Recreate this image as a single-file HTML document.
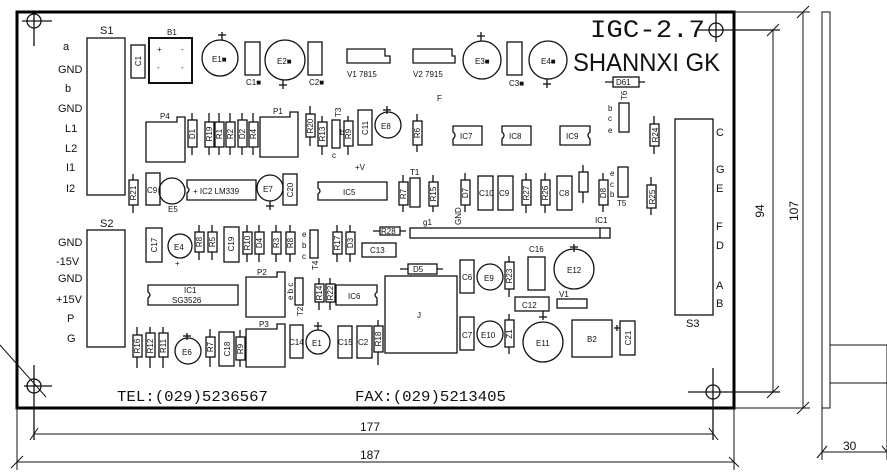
<!DOCTYPE html>
<html><head><meta charset="utf-8">
<style>
html,body{margin:0;padding:0;background:#fff;}
svg{display:block;}
text{font-family:"Liberation Sans","DejaVu Sans",sans-serif;fill:#111;}
.s{fill:none;stroke:#111;stroke-width:1.3;}
.t{fill:none;stroke:#111;stroke-width:1;}
.lbl{font-size:11px;}
.sm{font-size:8px;}
</style></head><body>
<svg width="887" height="476" viewBox="0 0 887 476" xmlns="http://www.w3.org/2000/svg">
<rect width="887" height="476" fill="#fff"/>
<rect x="17" y="12" width="717" height="396" fill="none" stroke="#000" stroke-width="3"/>
<g class="s">
<circle cx="34" cy="21" r="7"/><line x1="22" y1="21" x2="52" y2="21"/><line x1="34" y1="14" x2="34" y2="46"/>
<circle cx="716" cy="30" r="7"/><line x1="697" y1="30" x2="780" y2="30"/><line x1="716" y1="13" x2="716" y2="42"/>
<circle cx="34" cy="386" r="7"/><line x1="24" y1="386" x2="52" y2="386"/><line x1="34" y1="365" x2="34" y2="440"/>
<circle cx="713" cy="392" r="7"/><line x1="688" y1="392" x2="780" y2="392"/><line x1="713" y1="368" x2="713" y2="440"/>
</g>
<g class="t">
<line x1="0" y1="345" x2="46" y2="397"/>
<line x1="17" y1="408" x2="17" y2="470"/>
<line x1="734" y1="408" x2="734" y2="470"/>
<line x1="34" y1="434" x2="713" y2="434"/><line x1="30" y1="440" x2="38" y2="428"/><line x1="709" y1="428" x2="718" y2="440"/>
<line x1="17" y1="462" x2="734" y2="462"/><line x1="11" y1="468" x2="23" y2="456"/><line x1="729" y1="457" x2="739" y2="467"/>
<line x1="734" y1="12" x2="810" y2="12"/><line x1="734" y1="408" x2="810" y2="408"/>
<line x1="773" y1="30" x2="773" y2="392"/><line x1="767" y1="36" x2="779" y2="24"/><line x1="767" y1="398" x2="779" y2="386"/>
<line x1="803" y1="12" x2="803" y2="408"/><line x1="797" y1="18" x2="809" y2="6"/><line x1="797" y1="414" x2="809" y2="402"/>
<rect x="822" y="12" width="8" height="396"/>
<rect x="830" y="345" width="57" height="38"/>
<line x1="822" y1="408" x2="822" y2="460"/><line x1="887" y1="383" x2="887" y2="460"/>
<line x1="822" y1="452" x2="887" y2="452"/><line x1="817" y1="458" x2="827" y2="446"/><line x1="882" y1="446" x2="887" y2="452"/>
</g>
<text x="360" y="431" font-size="12">177</text>
<text x="360" y="459" font-size="12">187</text>
<text x="843" y="450" font-size="12">30</text>
<text transform="translate(764,211) rotate(-90)" font-size="12" text-anchor="middle">94</text>
<text transform="translate(798,211) rotate(-90)" font-size="12" text-anchor="middle">107</text>
<text x="590" y="37" style="font-family:'Liberation Mono',monospace;font-size:25px" textLength="115" lengthAdjust="spacingAndGlyphs">IGC-2.7</text>
<text x="573" y="71" style="font-size:25px" textLength="147" lengthAdjust="spacingAndGlyphs">SHANNXI  GK</text>
<text x="117" y="401" style="font-family:'Liberation Mono',monospace;font-size:15px" textLength="151" lengthAdjust="spacingAndGlyphs">TEL:(029)5236567</text>
<text x="355" y="401" style="font-family:'Liberation Mono',monospace;font-size:15px" textLength="151" lengthAdjust="spacingAndGlyphs">FAX:(029)5213405</text>
<rect class="s" x="87" y="38" width="38" height="157"/>
<text x="100" y="34" class="lbl">S1</text>
<g class="lbl">
<text x="63" y="50">a</text><text x="58" y="73">GND</text><text x="65" y="92">b</text><text x="58" y="112">GND</text>
<text x="65" y="132">L1</text><text x="65" y="152">L2</text><text x="66" y="171">I1</text><text x="66" y="192">I2</text>
</g>
<rect class="s" x="87" y="230" width="38" height="117"/>
<text x="100" y="227" class="lbl">S2</text>
<g class="lbl">
<text x="58" y="246">GND</text><text x="56" y="265">-15V</text><text x="58" y="282">GND</text>
<text x="56" y="303">+15V</text><text x="67" y="322">P</text><text x="67" y="342">G</text>
</g>
<rect class="s" x="675" y="119" width="38" height="196"/>
<text x="686" y="327" class="lbl">S3</text>
<g class="lbl">
<text x="716" y="136">C</text><text x="716" y="173">G</text><text x="716" y="192">E</text>
<text x="716" y="230">F</text><text x="716" y="249">D</text><text x="716" y="289">A</text><text x="716" y="307">B</text>
</g>
<g class="s">
<rect x="131" y="45" width="14" height="33"/>
<rect x="149" y="38" width="43" height="45" stroke-width="2"/>
<circle cx="220" cy="58" r="18"/><line x1="222" y1="32" x2="222" y2="40"/><line x1="218" y1="35" x2="226" y2="35"/>
<rect x="245" y="42" width="15" height="33"/>
<circle cx="285" cy="60" r="20"/><line x1="283" y1="80" x2="283" y2="89"/><line x1="279" y1="85" x2="287" y2="85"/>
<rect x="308" y="42" width="14" height="33"/>
<path d="M347 49 H385 V56 H390 V63 H347 Z"/>
<path d="M413 49 H452 V56 H455 V63 H413 Z"/>
<circle cx="482" cy="60" r="19"/><line x1="481" y1="32" x2="481" y2="41"/><line x1="477" y1="36" x2="485" y2="36"/>
<rect x="507" y="42" width="15" height="33"/>
<circle cx="548" cy="60" r="19"/><line x1="547" y1="79" x2="547" y2="88"/><line x1="543" y1="84" x2="551" y2="84"/>
</g>
<g class="sm">
<text transform="translate(141,61) rotate(-90)" text-anchor="middle">C1</text>
<text x="167" y="35">B1</text>
<text x="157" y="52">+</text><text x="181" y="52">-</text><text x="157" y="70">-</text><text x="181" y="70">-</text>
<text x="212" y="62">E1■</text><text x="246" y="85">C1■</text>
<text x="277" y="64">E2■</text><text x="309" y="85">C2■</text>
<text x="347" y="77">V1 7815</text><text x="413" y="77">V2 7915</text>
<text x="475" y="64">E3■</text><text x="509" y="86">C3■</text><text x="541" y="64">E4■</text>
<text x="437" y="101">F</text>
</g>
<g class="s">
<line x1="605" y1="82" x2="645" y2="82"/><rect x="613" y="77" width="26" height="10" fill="#fff"/>
<rect x="619" y="103" width="10" height="29"/>
<line x1="654" y1="116" x2="654" y2="154"/><rect x="650" y="124" width="9" height="22" fill="#fff"/>
<line x1="651" y1="177" x2="651" y2="215"/><rect x="647" y="185" width="9" height="23" fill="#fff"/>
</g>
<g class="sm">
<text x="616" y="85">D61</text>
<text transform="translate(627,100) rotate(-90)">T6</text>
<text x="608" y="111">b</text><text x="608" y="121">c</text><text x="608" y="133">e</text>
<text transform="translate(658,135) rotate(-90)" text-anchor="middle">R24</text>
<text transform="translate(655,197) rotate(-90)" text-anchor="middle">R25</text>
</g>
<g class="s">
<path d="M146 122 H177 V117 H185 V162 H146 Z"/>
<path d="M260 117 H290 V112 H298 V157 H260 Z"/>
<rect x="332" y="120" width="8" height="28"/>
<rect x="358" y="110" width="14" height="35"/>
<circle cx="388" cy="125" r="13"/><line x1="387" y1="106" x2="387" y2="114"/><line x1="383" y1="110" x2="391" y2="110"/>
<path d="M453 126 H482 V145 H453 V139 Q457 135 453 132 Z"/>
<path d="M502 126 H531 V145 H502 V139 Q506 135 502 132 Z"/>
<path d="M560 126 H590 V132 Q586 135 590 139 V145 H560 Z"/>
</g>
<g class="sm">
<text x="160" y="119">P4</text><text x="273" y="114">P1</text>
<text transform="translate(341,117) rotate(-90)">T3</text><text x="332" y="158">c</text><text x="340" y="135">b</text>
<text transform="translate(368,128) rotate(-90)" text-anchor="middle">C11</text>
<text x="381" y="129">E8</text>
<text x="355" y="170">+V</text>
<text x="460" y="139">IC7</text><text x="509" y="139">IC8</text><text x="566" y="139">IC9</text>
</g>
<g class="s">
<line x1="192" y1="113" x2="192" y2="155"/><rect x="188" y="120" width="9" height="27" fill="#fff"/>
<line x1="209" y1="113" x2="209" y2="155"/><rect x="205" y="122" width="9" height="25" fill="#fff"/>
<line x1="219" y1="113" x2="219" y2="155"/><rect x="215" y="122" width="9" height="25" fill="#fff"/>
<line x1="230" y1="113" x2="230" y2="155"/><rect x="226" y="122" width="9" height="25" fill="#fff"/>
<line x1="242" y1="113" x2="242" y2="155"/><rect x="238" y="120" width="9" height="27" fill="#fff"/>
<line x1="253" y1="113" x2="253" y2="155"/><rect x="249" y="122" width="9" height="25" fill="#fff"/>
<line x1="310" y1="106" x2="310" y2="146"/><rect x="306" y="114" width="9" height="23" fill="#fff"/>
<line x1="322" y1="116" x2="322" y2="155"/><rect x="318" y="122" width="9" height="24" fill="#fff"/>
<line x1="348" y1="116" x2="348" y2="155"/><rect x="344" y="121" width="9" height="25" fill="#fff"/>
<line x1="417" y1="114" x2="417" y2="152"/><rect x="413" y="121" width="9" height="24" fill="#fff"/>
</g>
<g class="sm">
<text transform="translate(195,134) rotate(-90)" text-anchor="middle">D1</text>
<text transform="translate(212,134) rotate(-90)" text-anchor="middle">R19</text>
<text transform="translate(222,134) rotate(-90)" text-anchor="middle">R1</text>
<text transform="translate(233,134) rotate(-90)" text-anchor="middle">R2</text>
<text transform="translate(245,134) rotate(-90)" text-anchor="middle">D2</text>
<text transform="translate(256,134) rotate(-90)" text-anchor="middle">R4</text>
<text transform="translate(313,126) rotate(-90)" text-anchor="middle">R20</text>
<text transform="translate(325,134) rotate(-90)" text-anchor="middle">R13</text>
<text transform="translate(351,134) rotate(-90)" text-anchor="middle">R9</text>
<text transform="translate(420,133) rotate(-90)" text-anchor="middle">R6</text>
</g>
<g class="s">
<line x1="133" y1="174" x2="133" y2="213"/><rect x="129" y="180" width="9" height="25" fill="#fff"/>
<rect x="146" y="173" width="14" height="32"/>
<circle cx="172" cy="191" r="13"/>
<path d="M187 180 H256 V200 H187 V193 Q191 190 187 187 Z"/>
<circle cx="270" cy="188" r="13"/><line x1="270" y1="201" x2="270" y2="210"/><line x1="266" y1="206" x2="274" y2="206"/>
<rect x="283" y="174" width="14" height="31"/>
<path d="M318 182 H387 V200 H318 V194 Q322 191 318 188 Z"/>
<line x1="403" y1="175" x2="403" y2="212"/><rect x="399" y="182" width="9" height="23" fill="#fff"/>
<rect x="410" y="178" width="10" height="29"/>
<line x1="433" y1="175" x2="433" y2="212"/><rect x="429" y="182" width="9" height="24" fill="#fff"/>
<line x1="465" y1="173" x2="465" y2="212"/><rect x="461" y="180" width="9" height="25" fill="#fff"/>
<rect x="478" y="176" width="15" height="34"/>
<rect x="498" y="176" width="15" height="34"/>
<line x1="526" y1="173" x2="526" y2="213"/><rect x="522" y="180" width="9" height="25" fill="#fff"/>
<line x1="545" y1="173" x2="545" y2="213"/><rect x="541" y="180" width="9" height="25" fill="#fff"/>
<rect x="557" y="176" width="15" height="34"/>
<line x1="583" y1="165" x2="583" y2="203"/><rect x="579" y="172" width="9" height="20" fill="#fff"/>
<line x1="603" y1="173" x2="603" y2="212"/><rect x="599" y="180" width="9" height="25" fill="#fff"/>
<rect x="618" y="167" width="10" height="30"/>
</g>
<g class="sm">
<text transform="translate(136,193) rotate(-90)" text-anchor="middle">R21</text>
<text x="147" y="193">C9</text><text x="168" y="212">E5</text>
<text x="193" y="194">+ IC2 LM339</text>
<text x="263" y="192">E7</text>
<text transform="translate(293,190) rotate(-90)" text-anchor="middle">C20</text>
<text x="343" y="195">IC5</text>
<text transform="translate(406,194) rotate(-90)" text-anchor="middle">R7</text>
<text x="410" y="175">T1</text>
<text transform="translate(436,194) rotate(-90)" text-anchor="middle">R15</text>
<text transform="translate(468,193) rotate(-90)" text-anchor="middle">D7</text>
<text x="479" y="196">C10</text><text x="499" y="196">C9</text>
<text transform="translate(529,193) rotate(-90)" text-anchor="middle">R27</text>
<text transform="translate(548,193) rotate(-90)" text-anchor="middle">R26</text>
<text x="559" y="196">C8</text>
<text transform="translate(606,193) rotate(-90)" text-anchor="middle">D8</text>
<text x="610" y="176">e</text><text x="610" y="187">c</text><text x="610" y="197">b</text>
<text x="617" y="206">T5</text>
<text transform="translate(461,225) rotate(-90)">GND</text>
<text x="595" y="223">IC1</text>
<text x="423" y="225">g1</text>
</g>
<g class="s">
<rect x="410" y="228" width="200" height="10"/><line x1="600" y1="228" x2="600" y2="238"/>
<line x1="373" y1="231" x2="406" y2="231"/><rect x="380" y="227" width="20" height="8" fill="#fff"/>
</g>
<text x="381" y="234" class="sm">R28</text>
<g class="s">
<rect x="146" y="228" width="16" height="34"/>
<circle cx="180" cy="246" r="12"/>
<line x1="199" y1="225" x2="199" y2="260"/><rect x="195" y="232" width="9" height="20" fill="#fff"/>
<line x1="212" y1="225" x2="212" y2="260"/><rect x="208" y="232" width="9" height="20" fill="#fff"/>
<rect x="224" y="227" width="15" height="35"/>
<line x1="247" y1="225" x2="247" y2="262"/><rect x="243" y="232" width="9" height="22" fill="#fff"/>
<line x1="259" y1="225" x2="259" y2="262"/><rect x="255" y="232" width="9" height="22" fill="#fff"/>
<line x1="276" y1="225" x2="276" y2="262"/><rect x="272" y="232" width="9" height="22" fill="#fff"/>
<line x1="290" y1="225" x2="290" y2="262"/><rect x="286" y="232" width="9" height="22" fill="#fff"/>
<rect x="310" y="230" width="8" height="28"/>
<line x1="337" y1="225" x2="337" y2="262"/><rect x="333" y="232" width="9" height="22" fill="#fff"/>
<line x1="350" y1="225" x2="350" y2="262"/><rect x="346" y="232" width="9" height="22" fill="#fff"/>
<rect x="362" y="243" width="34" height="14"/>
<line x1="400" y1="269" x2="443" y2="269"/><rect x="408" y="264" width="29" height="10" fill="#fff"/>
<path d="M148 285 H238 V305 H148 V298 Q152 295 148 292 Z"/>
<path d="M246 277 H277 V272 H285 V317 H246 Z"/>
<rect x="295" y="278" width="8" height="27"/>
<line x1="319" y1="278" x2="319" y2="310"/><rect x="315" y="284" width="9" height="18" fill="#fff"/>
<line x1="330" y1="278" x2="330" y2="310"/><rect x="326" y="284" width="9" height="18" fill="#fff"/>
<path d="M336 285 H377 V292 Q373 295 377 298 V305 H336 Z"/>
<rect x="385" y="276" width="72" height="77"/>
</g>
<g class="sm">
<text transform="translate(157,245) rotate(-90)" text-anchor="middle">C17</text>
<text x="174" y="250">E4</text><text x="175" y="266">+</text>
<text transform="translate(202,242) rotate(-90)" text-anchor="middle">R8</text>
<text transform="translate(215,242) rotate(-90)" text-anchor="middle">R5</text>
<text transform="translate(234,244) rotate(-90)" text-anchor="middle">C19</text>
<text transform="translate(250,243) rotate(-90)" text-anchor="middle">R10</text>
<text transform="translate(262,243) rotate(-90)" text-anchor="middle">D4</text>
<text transform="translate(279,243) rotate(-90)" text-anchor="middle">R3</text>
<text transform="translate(293,243) rotate(-90)" text-anchor="middle">R8</text>
<text x="302" y="237">e</text><text x="302" y="248">b</text><text x="302" y="259">c</text>
<text transform="translate(318,270) rotate(-90)">T4</text>
<text transform="translate(340,243) rotate(-90)" text-anchor="middle">R17</text>
<text transform="translate(353,243) rotate(-90)" text-anchor="middle">D3</text>
<text x="370" y="253">C13</text>
<text x="413" y="272">D5</text>
<text x="184" y="293">IC1</text><text x="172" y="303">SG3526</text>
<text x="257" y="275">P2</text>
<text transform="translate(293,300) rotate(-90)">e b c</text>
<text transform="translate(303,316) rotate(-90)">T2</text>
<text transform="translate(322,293) rotate(-90)" text-anchor="middle">R14</text>
<text transform="translate(333,293) rotate(-90)" text-anchor="middle">R22</text>
<text x="348" y="299">IC6</text>
<text x="417" y="318">J</text>
</g>
<g class="s">
<rect x="460" y="260" width="14" height="33"/>
<circle cx="490" cy="277" r="13"/>
<line x1="509" y1="256" x2="509" y2="297"/><rect x="505" y="262" width="9" height="27" fill="#fff"/>
<rect x="528" y="257" width="17" height="33"/>
<circle cx="574" cy="269" r="20"/><line x1="574" y1="244" x2="574" y2="252"/><line x1="570" y1="247" x2="578" y2="247"/>
<rect x="515" y="297" width="34" height="14"/><line x1="543" y1="311" x2="543" y2="320"/><line x1="539" y1="317" x2="547" y2="317"/>
<rect x="557" y="299" width="30" height="9"/>
<rect x="460" y="317" width="14" height="33"/>
<circle cx="490" cy="334" r="13"/>
<line x1="509" y1="314" x2="509" y2="354"/><rect x="505" y="320" width="9" height="27" fill="#fff"/>
<circle cx="543" cy="342" r="20"/>
<rect x="572" y="320" width="40" height="37"/>
<rect x="620" y="321" width="15" height="34"/><line x1="614" y1="328" x2="620" y2="328"/><line x1="617" y1="325" x2="617" y2="331"/>
</g>
<g class="sm">
<text x="462" y="280">C6</text><text x="484" y="281">E9</text>
<text transform="translate(512,276) rotate(-90)" text-anchor="middle">R23</text>
<text x="529" y="252">C16</text><text x="567" y="273">E12</text>
<text x="522" y="308">C12</text><text x="559" y="297">V1</text>
<text x="462" y="338">C7</text><text x="481" y="338">E10</text>
<text transform="translate(512,334) rotate(-90)" text-anchor="middle">Z1</text>
<text x="536" y="346">E11</text><text x="587" y="342">B2</text>
<text transform="translate(631,338) rotate(-90)" text-anchor="middle">C21</text>
</g>
<g class="s">
<line x1="137" y1="327" x2="137" y2="368"/><rect x="133" y="335" width="9" height="22" fill="#fff"/>
<line x1="150" y1="327" x2="150" y2="368"/><rect x="146" y="333" width="9" height="24" fill="#fff"/>
<line x1="163" y1="327" x2="163" y2="368"/><rect x="159" y="333" width="9" height="24" fill="#fff"/>
<circle cx="188" cy="351" r="13"/><line x1="187" y1="333" x2="187" y2="340"/><line x1="183" y1="336" x2="191" y2="336"/>
<line x1="210" y1="329" x2="210" y2="367"/><rect x="206" y="337" width="9" height="20" fill="#fff"/>
<rect x="219" y="332" width="15" height="34"/>
<line x1="240" y1="330" x2="240" y2="367"/><rect x="236" y="337" width="9" height="23" fill="#fff"/>
<path d="M246 329 H277 V324 H285 V367 H246 Z"/>
<rect x="290" y="325" width="13" height="33"/>
<circle cx="318" cy="342" r="12"/><line x1="318" y1="322" x2="318" y2="330"/><line x1="314" y1="326" x2="322" y2="326"/>
<rect x="338" y="326" width="14" height="32"/>
<rect x="357" y="326" width="15" height="32"/>
<line x1="378" y1="320" x2="378" y2="365"/><rect x="374" y="326" width="9" height="26" fill="#fff"/>
</g>
<g class="sm">
<text transform="translate(140,346) rotate(-90)" text-anchor="middle">R16</text>
<text transform="translate(153,346) rotate(-90)" text-anchor="middle">R12</text>
<text transform="translate(166,346) rotate(-90)" text-anchor="middle">R11</text>
<text x="182" y="355">E6</text>
<text transform="translate(213,347) rotate(-90)" text-anchor="middle">R7</text>
<text transform="translate(230,349) rotate(-90)" text-anchor="middle">C18</text>
<text transform="translate(243,349) rotate(-90)" text-anchor="middle">R9</text>
<text x="259" y="327">P3</text>
<text x="289" y="345">C14</text><text x="312" y="346">E1</text>
<text x="338" y="345">C15</text><text x="358" y="345">C2</text>
<text transform="translate(381,339) rotate(-90)" text-anchor="middle">R18</text>
</g>
</svg>
</body></html>
